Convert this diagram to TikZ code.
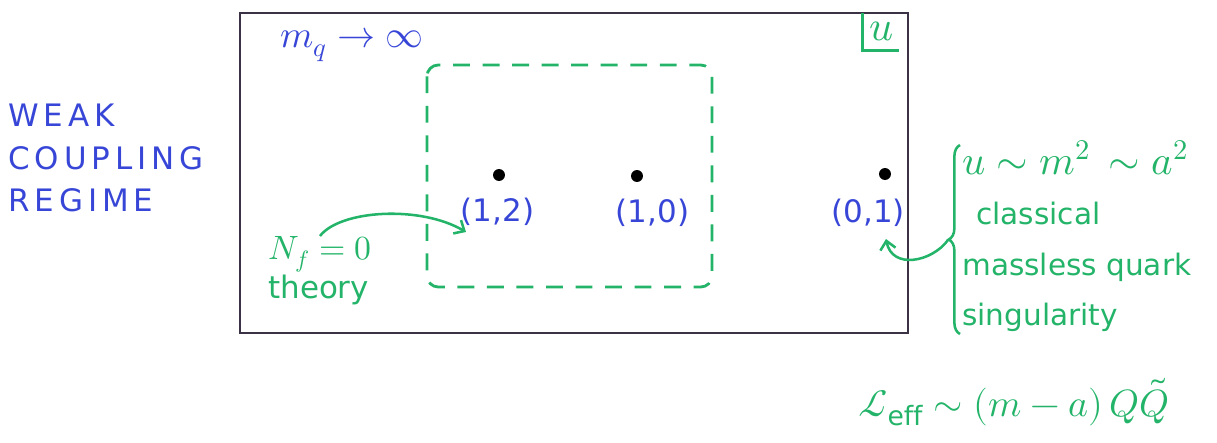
\documentclass[tikz,border=0pt]{standalone}
\usepackage{fontspec}
\usepackage{unicode-math}
\setmainfont{DejaVu Sans}
\setmathfont{Latin Modern Math}
\usetikzlibrary{arrows.meta, positioning, decorations.pathreplacing}
\definecolor{colInk}{RGB}{55,70,215}
\definecolor{colGreen}{RGB}{35,180,105}
\definecolor{colFrame}{RGB}{60,50,70}
\tikzset{
  blueText/.style={
    text=colInk, inner sep=0pt
  },
  greenText/.style={
    text=colGreen, inner sep=0pt
  },
  sing/.style={
    circle, fill=black, inner sep=0pt, minimum size=8.5pt
  },
  frameLine/.style={
    draw=colFrame, line width=1.6pt
  },
  dashBox/.style={
    draw=colGreen, line width=2pt, rounded corners=8pt,
    dash pattern=on 12pt off 9pt
  },
  gline/.style={
    draw=colGreen, line width=1.8pt
  },
  garr/.style={
    gline, -{Straight Barb[length=6pt, width=11pt]}
  },
  gbrace/.style={
    gline, decorate, decoration={brace, amplitude=8pt}
  }
}

\begin{document}
\begin{tikzpicture}[x=0.025cm, y=-0.025cm]
\useasboundingbox (0,0) rectangle (1217,442);

%% ==============================================================
%% u-plane
%% ==============================================================

% --- frame ---
\draw[frameLine] (240,13) rectangle (908,333);

% --- corner label ---
\node[greenText, font=\fontsize{30}{30}\selectfont] (ulbl) at (882,31) {$u$};
\draw[gline] ([xshift=-5pt,yshift=6pt]ulbl.north west)
    |- ([xshift=3pt,yshift=-7pt]ulbl.south east);

% --- heavy quark limit ---
\node[blueText, font=\fontsize{27}{27}\selectfont] (mqlbl) at (352,45)
    {$m_q \to \infty$};

% --- pure SU(2) region ---
\draw[dashBox] (427,65) rectangle (712,287);

% --- singularities ---
\node[sing] (s12) at (499,175) {};
\node[sing] (s10) at (637,176) {};
\node[sing] (s01) at (885,174) {};

\node[blueText, font=\fontsize{22}{22}\selectfont,
      below=0.4cm of s12, xshift=-1pt] (l12) {(1,2)};
\node[blueText, font=\fontsize{22}{22}\selectfont,
      below=0.4cm of s10, xshift=11pt] (l10) {(1,0)};
\node[blueText, font=\fontsize{22}{22}\selectfont,
      below=0.45cm of s01, xshift=-12pt] (l01) {(0,1)};

%% ==============================================================
%% Annotations
%% ==============================================================

\node[blueText, anchor=west, align=left,
      font=\fontsize{22}{30}\selectfont\addfontfeature{LetterSpace=16}]
      (regime) at (8,158) {WEAK\\COUPLING\\REGIME};

% --- Nf = 0 ---
\node[greenText, anchor=north west, align=left,
      font=\fontsize{22}{28}\selectfont] (nflbl) at (268,236)
      {{\fontsize{24}{28}\selectfont$N_f=0$}\\theory};
\coordinate (nftip) at (466,232);
\draw[garr] (nflbl.north) .. controls (340,210) and (420,205) .. (nftip);

% --- massless quark point ---
\draw[gbrace] (960,334) -- (960,145);
\coordinate (bracetip) at (948,240);
\coordinate (qtip) at (886,239);
\draw[garr] (bracetip) .. controls (932,262) and (892,270) .. (qtip);

\node[greenText, anchor=north west, align=left,
      font=\fontsize{21}{36}\selectfont] (quarklbl) at (962,140)
      {{\fontsize{29}{36}\selectfont$u \sim m^2 \,\sim a^2$}\\
       \hspace{10pt}classical\\
       massless quark\\
       singularity};

\node[greenText, anchor=west, font=\fontsize{27}{27}\selectfont]
      (leff) at (858,402)
      {$\mathcal{L}_{\mathrm{eff}} \sim (m-a)\,Q\tilde{Q}$};

\end{tikzpicture}
\end{document}
